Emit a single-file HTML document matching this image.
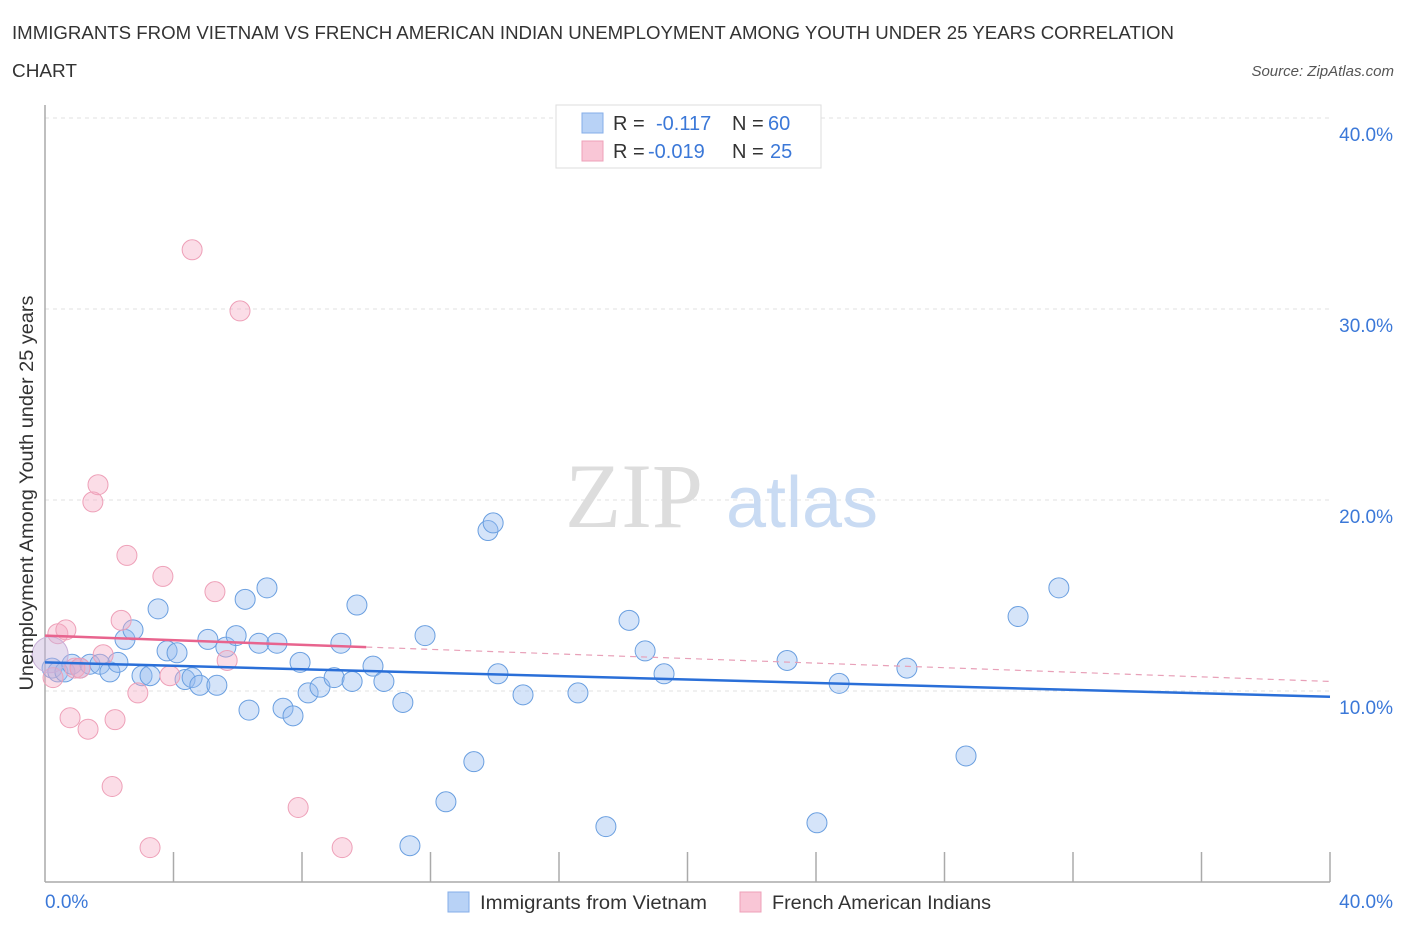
<!DOCTYPE html>
<html><head><meta charset="utf-8"><style>
body{margin:0;background:#fff;font-family:"Liberation Sans",sans-serif;}
</style></head><body>
<svg width="1406" height="930" xmlns="http://www.w3.org/2000/svg">
<text x="12" y="39" font-size="18" fill="#333" textLength="1162" lengthAdjust="spacingAndGlyphs">IMMIGRANTS FROM VIETNAM VS FRENCH AMERICAN INDIAN UNEMPLOYMENT AMONG YOUTH UNDER 25 YEARS CORRELATION</text>
<text x="12" y="77" font-size="18" fill="#333" textLength="65" lengthAdjust="spacingAndGlyphs">CHART</text>
<text x="1394" y="76" font-size="15" fill="#555" font-style="italic" text-anchor="end">Source: ZipAtlas.com</text>
<g id="grid"></g>
<text x="634" y="527" font-size="92" fill="#ddd" font-family="Liberation Serif,serif" text-anchor="middle">ZIP</text>
<text x="802" y="527" font-size="72" fill="#c9dbf3" text-anchor="middle">atlas</text>
<g id="axes"></g>
<g id="pts"></g>
<g id="lines"></g>
<text x="33" y="493" font-size="19" fill="#333" text-anchor="middle" textLength="395" lengthAdjust="spacingAndGlyphs" transform="rotate(-90 33 493)">Unemployment Among Youth under 25 years</text>
<text x="45" y="908" font-size="19" fill="#3b78d8">0.0%</text>
<text x="1393" y="908" font-size="19" fill="#3b78d8" text-anchor="end">40.0%</text>
<g>
<rect x="556" y="105" width="265" height="63" fill="#fff" stroke="#ddd"/>
<rect x="582" y="113" width="21" height="20" fill="#b8d2f6" stroke="#85aee8"/>
<rect x="582" y="141" width="21" height="20" fill="#f9c6d6" stroke="#eea0b8"/>
<text x="613" y="130" font-size="20" fill="#333">R =</text>
<text x="656" y="130" font-size="20" fill="#3b78d8">-0.117</text>
<text x="732" y="130" font-size="20" fill="#333">N =</text>
<text x="768" y="130" font-size="20" fill="#3b78d8">60</text>
<text x="613" y="158" font-size="20" fill="#333">R =</text>
<text x="648" y="158" font-size="20" fill="#3b78d8">-0.019</text>
<text x="732" y="158" font-size="20" fill="#333">N =</text>
<text x="770" y="158" font-size="20" fill="#3b78d8">25</text>
</g>
<g>
<rect x="448" y="892" width="21" height="20" fill="#b8d2f6" stroke="#85aee8"/>
<text x="480" y="909" font-size="19" fill="#333" textLength="227" lengthAdjust="spacingAndGlyphs">Immigrants from Vietnam</text>
<rect x="740" y="892" width="21" height="20" fill="#f9c6d6" stroke="#eea0b8"/>
<text x="772" y="909" font-size="19" fill="#333" textLength="219" lengthAdjust="spacingAndGlyphs">French American Indians</text>
</g>
</svg>
<script>
const yTicks=[10,20,30,40];
const xTickVals=[0,4,8,12,16,20,24,28,32,36,40];
const blueX=[0.22,0.40,0.62,0.84,1.09,1.40,1.71,2.02,2.27,2.49,2.74,3.02,3.27,3.52,3.80,4.11,4.36,4.58,4.82,5.07,5.35,5.63,5.95,6.23,6.35,6.66,6.91,7.22,7.41,7.72,7.94,8.19,8.56,9.00,9.21,9.56,9.71,10.21,10.55,11.14,11.36,11.83,12.48,13.35,13.79,13.95,14.10,14.88,16.59,17.46,18.18,18.68,19.27,23.10,24.03,24.72,26.83,28.67,30.29,31.56];
const blueY=[11.2,11.0,11.0,11.4,11.2,11.4,11.4,11.0,11.5,12.7,13.2,10.8,10.8,14.3,12.1,12.0,10.6,10.7,10.3,12.7,10.3,12.3,12.9,14.8,9.0,12.5,15.4,12.5,9.1,8.7,11.5,9.9,10.2,10.7,12.5,10.5,14.5,11.3,10.5,9.4,1.9,12.9,4.2,6.3,18.4,18.8,10.9,9.8,9.9,2.9,13.7,12.1,10.9,11.6,3.1,10.4,11.2,6.6,13.9,15.4];
const pinkX=[0.25,0.40,0.65,0.78,0.93,1.09,1.34,1.49,1.65,1.81,2.09,2.18,2.37,2.55,2.89,3.27,3.67,3.89,4.58,5.29,5.67,6.07,7.88,9.25];
const pinkY=[10.7,13.0,13.2,8.6,11.2,11.2,8.0,19.9,20.8,11.9,5.0,8.5,13.7,17.1,9.9,1.8,16.0,10.8,33.1,15.2,11.6,29.9,3.9,1.8];
const bigPink=[0.16,11.9];
const blueTrend=[11.5,9.7];
const pinkTrend=[12.9,10.5];
const pinkSolidEnd=10;
const NS="http://www.w3.org/2000/svg";
function sx(v){return 45+v*(1285/40);}
function sy(v){return 882-v*19.1;}
function mk(tag,attrs,parent){const e=document.createElementNS(NS,tag);for(const k in attrs)e.setAttribute(k,attrs[k]);document.getElementById(parent).appendChild(e);return e;}
yTicks.forEach(t=>{
 const l=mk('line',{x1:45,x2:1330,y1:sy(t),y2:sy(t),stroke:'#e2e2e2','stroke-dasharray':'4 4'},'grid');
 
 
 const tx=mk('text',{x:1393,y:sy(t)+23,'font-size':19,fill:'#3b78d8','text-anchor':'end'},'grid');
 tx.textContent=t.toFixed(1)+'%';
 
 
});
let a=mk('line',{x1:45,x2:45,y1:105,y2:882,stroke:'#aaa','stroke-width':1.5},'axes');


a=mk('line',{x1:45,x2:1330,y1:882,y2:882,stroke:'#aaa','stroke-width':1.5},'axes');


xTickVals.slice(1).forEach(t=>{
 const l=mk('line',{x1:sx(t),x2:sx(t),y1:852,y2:882,stroke:'#aaa','stroke-width':1.5},'axes');
 
 
});
blueX.forEach((x,i)=>{
 const c=mk('circle',{cx:sx(x),cy:sy(blueY[i]),r:10,fill:'rgba(150,188,240,0.4)',stroke:'#6a9fe0','stroke-width':1},'pts');
 
 
});
pinkX.forEach((x,i)=>{
 const c=mk('circle',{cx:sx(x),cy:sy(pinkY[i]),r:10,fill:'rgba(245,170,195,0.4)',stroke:'#eea0b8','stroke-width':1},'pts');
 
 
});
let bp=mk('circle',{cx:sx(bigPink[0]),cy:sy(bigPink[1]),r:18,fill:'rgba(200,180,220,0.45)',stroke:'#c9b0d8','stroke-width':1},'pts');


let t1=mk('line',{x1:sx(0),y1:sy(blueTrend[0]),x2:sx(40),y2:sy(blueTrend[1]),stroke:'#2a6fd8','stroke-width':2.5},'lines');


const pm=pinkTrend[0]+(pinkTrend[1]-pinkTrend[0])*pinkSolidEnd/40;
let t2=mk('line',{x1:sx(0),y1:sy(pinkTrend[0]),x2:sx(pinkSolidEnd),y2:sy(pm),stroke:'#e8648e','stroke-width':2.5},'lines');


let t3=mk('line',{x1:sx(pinkSolidEnd),y1:sy(pm),x2:sx(40),y2:sy(pinkTrend[1]),stroke:'#e8a0b8','stroke-width':1.2,'stroke-dasharray':'6 5'},'lines');


</script>
</body></html>
